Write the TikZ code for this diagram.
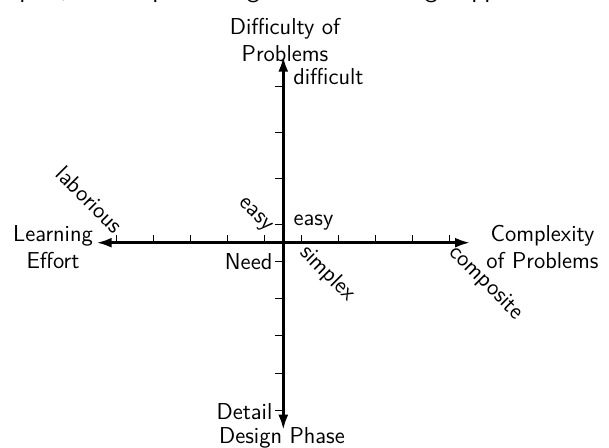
\documentclass[tikz,border=0pt]{standalone}
\usepackage{tikz}
\usetikzlibrary{arrows.meta}

\begin{document}
\begin{tikzpicture}[x=0.5pt,y=0.5pt,
  axisline/.style={line width=1.3pt,-{Latex[length=7.5pt,width=5pt]}},
  tickmark/.style={line width=0.45pt},
  lbl/.style={font=\fontsize{11.5}{13.35}\selectfont\sffamily,inner sep=0pt},
  rlbl/.style={lbl,rotate=-45}]
  \useasboundingbox (-283.3,-205.3) rectangle (325.7,242.7);
  % line of running text cut off at the top edge
  \node[lbl,font=\fontsize{13}{15}\selectfont\sffamily,anchor=base west]
    (runtext) at (-284,245) {e plot, each representing one of the design approaches co};

  % the four half axes
  \coordinate (O) at (0,0);
  \coordinate (E) at (186.7,0);
  \coordinate (W) at (-186.6,0);
  \coordinate (N) at (0,186);
  \coordinate (S) at (0,-187);
  \draw[axisline] (O) -- (E);
  \draw[axisline] (O) -- (W);
  \draw[axisline] (O) -- (N);
  \draw[axisline] (O) -- (S);
  \foreach \k in {0,...,4} {
    \draw[tickmark] ({18.6+37*\k},0) -- ++(0,8);
    \draw[tickmark] ({-18.6-37*\k},0) -- ++(0,8);
    \draw[tickmark] (0,{-18.6-37.3*\k}) -- ++(-8,0);
  }
  \foreach \k in {0,...,3}
    \draw[tickmark] (0,{18.5+46*\k}) -- ++(-8,0);

  % axis titles
  \node[lbl,align=center] (difficulty) at (1.7,202.7) {Difficulty of\\Problems};
  \node[lbl,anchor=base] (phase) at (-1.3,-200.3) {Design Phase};
  \node[lbl,align=center] (effort) at (-230.3,-4.2) {Learning\\Effort};
  \node[lbl,align=center] (complexity) at (259.2,-4.6) {Complexity\\of Problems};

  % tick labels
  \node[lbl,anchor=base west] (difficult) at (9.7,157.7) {difficult};
  \node[lbl,anchor=base west] (easyup) at (10,17) {easy};
  \node[lbl,anchor=base east] (need) at (-10.6,-27.3) {Need};
  \node[lbl,anchor=base east] (detail) at (-10.6,-176.3) {Detail};
  \node[rlbl,anchor=east] (laborious) at (-164,13.5) {laborious};
  \node[rlbl,anchor=east] (easyleft) at (-14.3,12.5) {easy};
  \node[rlbl,anchor=west] (simplex) at (19.6,-6.5) {simplex};
  \node[rlbl,anchor=west] (composite) at (169,-6.5) {composite};
\end{tikzpicture}
\end{document}
